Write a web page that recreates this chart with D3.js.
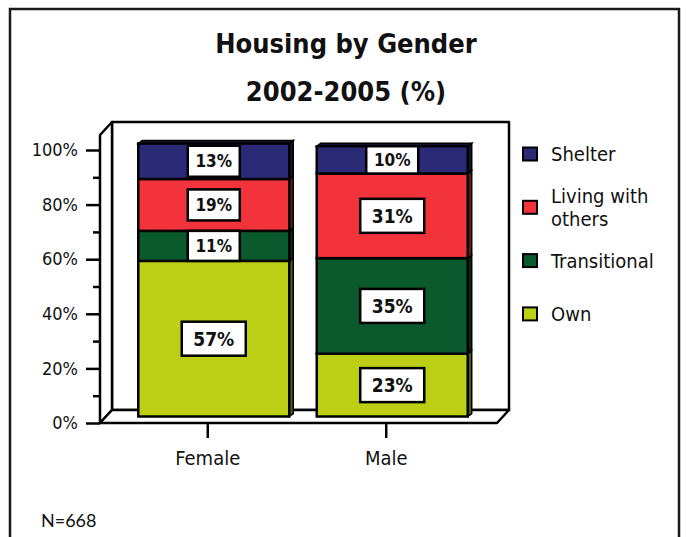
<!DOCTYPE html>
<html>
<head>
<meta charset="utf-8">
<script src="https://cdn.jsdelivr.net/npm/d3@7"></script>
<style>
	body { margin: 0; background: #fff; }
	text { font-family: "DejaVu Sans Condensed", "DejaVu Sans", sans-serif; fill: #111; }
</style>
</head>
<body>
<div id="chart"></div>
<script>
// data
let categories	= ["Female", "Male"];
let seriesNames	= ["Own", "Transitional", "Living with others", "Shelter"];
let own				= [57, 23];
let transitional	= [11, 35];
let living			= [19, 31];
let shelter			= [13, 10];
let yTicks			= [0, 20, 40, 60, 80, 100];
let yMinorTicks		= [10, 30, 50, 70, 90];
let colors			= ["#bccf15", "#0b5a2e", "#f2333b", "#2b2a77"];

let width	= 686;
let height	= 537;

let depth	= { dx: 12, dy: 13 };		// depth of the 3d walls
let mid		= { dx: 6, dy: 6.5 };		// bars stand half way into the depth
let bar3d	= { dx: 4, dy: 3 };			// small side on each bar

let y = d3.scaleLinear().domain([0, 100]).range([423, 150]);
let x = d3.scaleBand().domain(categories).range([118, 476]).paddingInner(0.154).paddingOuter(0.08);

let rows = categories.map((c, i) => ({
	cat: c,
	"Own": own[i],
	"Transitional": transitional[i],
	"Living with others": living[i],
	"Shelter": shelter[i]
}));
let stacked = d3.stack().keys(seriesNames)(rows);

let svg = d3.select("#chart").append("svg")
	.attr("width", width)
	.attr("height", height);

// outer frame, bottom edge runs off the picture
svg.append("rect")
	.attr("x", 10).attr("y", 9)
	.attr("width", 669).attr("height", 560)
	.attr("fill", "none")
	.attr("stroke", "#1a1a1a")
	.attr("stroke-width", 2.5);

// title
let title = svg.append("g").attr("font-weight", "bold").attr("text-anchor", "middle");
title.append("text").attr("x", 346).attr("y", 53).style("font-size", "27px").text("Housing by Gender");
title.append("text").attr("x", 346).attr("y", 101).style("font-size", "27px").text("2002-2005 (%)");

// 3d walls
let x0 = x.range()[0] - 18, x1 = x.range()[1] + 21;
let yb = y(0), yt = y(105.5);
let walls = svg.append("g").attr("fill", "#fff").attr("stroke", "#000").attr("stroke-width", 2.5).attr("stroke-linejoin", "round");
walls.append("rect")
	.attr("x", x0 + depth.dx).attr("y", yt - depth.dy)
	.attr("width", x1 - x0).attr("height", yb - yt);
walls.append("polygon")
	.attr("points", [[x0, yb], [x0, yt], [x0 + depth.dx, yt - depth.dy], [x0 + depth.dx, yb - depth.dy]].join(" "));
walls.append("polygon")
	.attr("points", [[x0, yb], [x1, yb], [x1 + depth.dx, yb - depth.dy], [x0 + depth.dx, yb - depth.dy]].join(" "));

// y axis
let yAxis = svg.append("g")
	.attr("transform", "translate(" + x0 + ",0)")
	.call(d3.axisLeft(y).tickValues(yTicks).tickSize(14).tickPadding(8).tickFormat((d) => (d + "%")));
yAxis.select(".domain").remove();
yAxis.selectAll("line").attr("stroke", "#000").attr("stroke-width", 2.5);
yAxis.selectAll("text").style("font-size", "18px").attr("fill", "#111");

let yMinor = svg.append("g")
	.attr("transform", "translate(" + x0 + ",0)")
	.call(d3.axisLeft(y).tickValues(yMinorTicks).tickSize(7).tickFormat(""));
yMinor.select(".domain").remove();
yMinor.selectAll("line").attr("stroke", "#000").attr("stroke-width", 2.5);

// x axis
let xAxis = svg.append("g")
	.attr("transform", "translate(0," + yb + ")")
	.call(d3.axisBottom(x).tickSize(15).tickPadding(13));
xAxis.select(".domain").remove();
xAxis.selectAll("line").attr("stroke", "#000").attr("stroke-width", 2.5);
xAxis.selectAll("text").style("font-size", "20px").attr("fill", "#111");

// bars
let bars = svg.append("g").attr("transform", "translate(" + mid.dx + "," + (-mid.dy) + ")");
stacked.forEach((layer, li) => {
	let g = bars.append("g");
	layer.forEach((d) => {
		let bx = x(d.data.cat), bw = x.bandwidth();
		let top = y(d[1]), bot = y(d[0]);
		let side = d3.color(colors[li]).darker(2.2);
		// right side
		g.append("polygon")
			.attr("points", [[bx + bw, bot], [bx + bw, top], [bx + bw + bar3d.dx, top - bar3d.dy], [bx + bw + bar3d.dx, bot - bar3d.dy]].join(" "))
			.attr("fill", side).attr("stroke", "#000").attr("stroke-width", 1.5);
		if (li === seriesNames.length - 1) {
			g.append("polygon")
				.attr("points", [[bx, top], [bx + bw, top], [bx + bw + bar3d.dx, top - bar3d.dy], [bx + bar3d.dx, top - bar3d.dy]].join(" "))
				.attr("fill", side).attr("stroke", "#000").attr("stroke-width", 1.5);
		}
		g.append("rect")
			.attr("x", bx).attr("y", top)
			.attr("width", bw).attr("height", bot - top)
			.attr("fill", colors[li])
			.attr("stroke", "#000").attr("stroke-width", 2.5);
	});
});

// value labels
let labels = bars.append("g");
stacked.forEach((layer) => {
	layer.forEach((d) => {
		let cx = x(d.data.cat) + x.bandwidth() / 2;
		let top = y(d[1]), bot = y(d[0]);
		let segH = bot - top;
		let big = segH > 60;
		let w = big ? 64 : 52;
		let h = big ? 34 : Math.min(31, segH);
		let cy = (top + bot) / 2;
		labels.append("rect")
			.attr("x", cx - w / 2).attr("y", cy - h / 2)
			.attr("width", w).attr("height", h)
			.attr("fill", "#fff").attr("stroke", "#000").attr("stroke-width", 2.5);
		labels.append("text")
			.attr("x", cx).attr("y", cy)
			.attr("text-anchor", "middle").attr("dy", "0.36em")
			.attr("font-weight", "bold")
			.style("font-size", big ? "19px" : "17px")
			.text(d[1] - d[0] + "%");
	});
});

// legend, top to bottom is the reverse of the stack
let legendItems = seriesNames.map((s, i) => ({ name: s, color: colors[i] })).reverse();
let legendLines = { "Living with others": ["Living with", "others"] };
let legend = svg.append("g").attr("transform", "translate(523,154)");
legendItems.forEach((o, i) => {
	let g = legend.append("g").attr("transform", "translate(0," + (i * 53.3) + ")");
	g.append("rect")
		.attr("x", 0).attr("y", -6.5)
		.attr("width", 14).attr("height", 13)
		.attr("fill", o.color).attr("stroke", "#000").attr("stroke-width", 2);
	let lines = legendLines[o.name] || [o.name];
	lines.forEach((t, k) => {
		g.append("text")
			.attr("x", 28)
			.attr("y", (k - (lines.length - 1) / 2) * 23)
			.attr("dy", "0.36em")
			.style("font-size", "20px")
			.text(t);
	});
});

// sample size note
svg.append("text")
	.attr("x", 41).attr("y", 527)
	.style("font-family", "Lato, sans-serif")
	.style("font-size", "18px")
	.text("N=668");
</script>
</body>
</html>
